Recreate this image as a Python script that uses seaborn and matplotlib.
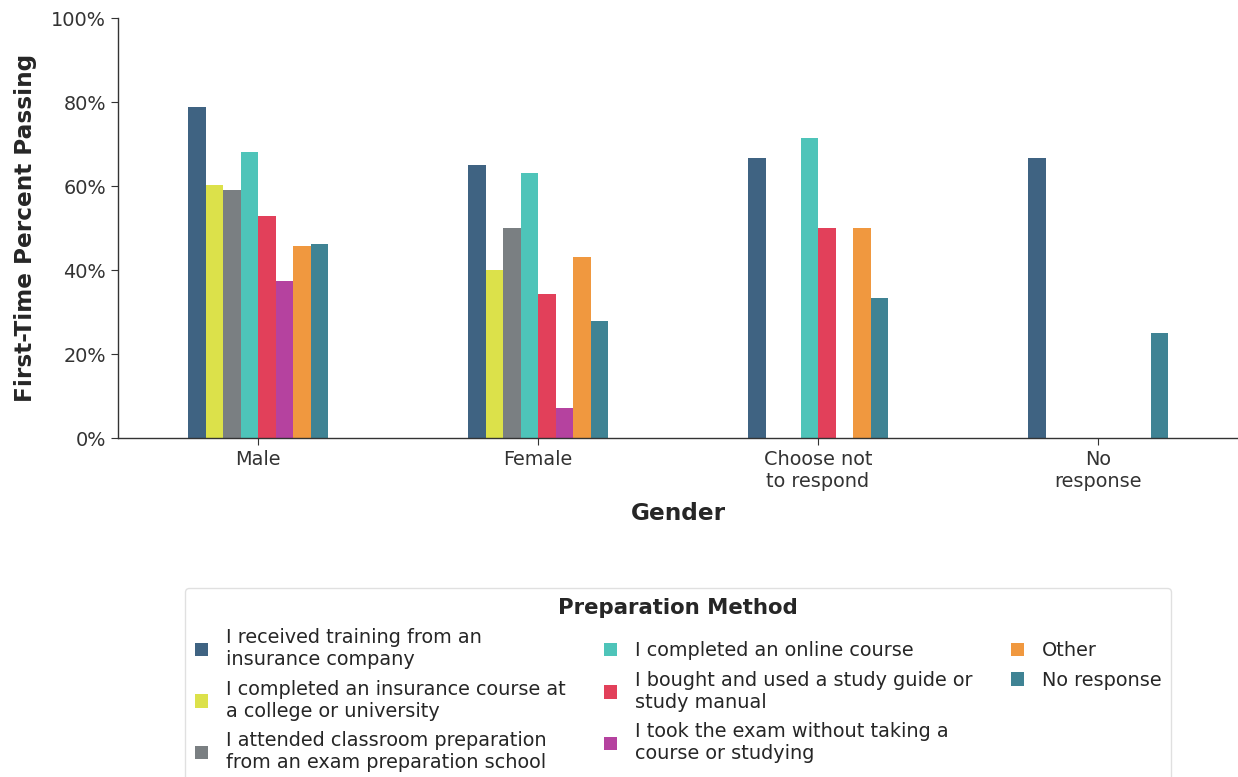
import numpy as np
import pandas as pd
import matplotlib.pyplot as plt
import matplotlib.ticker as mtick
import seaborn as sns

# ----------------------------
# Data (percent passing)
# ----------------------------
genders = ["Male", "Female", "Choose not\nto respond", "No\nresponse"]
methods = [
    "I received training from an\ninsurance company",
    "I completed an insurance course at\na college or university",
    "I attended classroom preparation\nfrom an exam preparation school",
    "I completed an online course",
    "I bought and used a study guide or\nstudy manual",
    "I took the exam without taking a\ncourse or studying",
    "Other",
    "No response",
]
colors = ["#3f6382", "#dce14a", "#7a7f82", "#4ec4b9",
          "#e2405a", "#b5429f", "#f0983f", "#3f8394"]

male = [78.9, 60.2, 59.0, 68.2, 52.9, 37.5, 45.6, 46.3]
female = [64.9, 40.0, 50.0, 63.0, 34.4, 7.1, 43.2, 27.9]
choose_not = [66.7, np.nan, np.nan, 71.4, 50.0, np.nan, 50.0, 33.3]
no_resp = [66.7, np.nan, np.nan, np.nan, np.nan, np.nan, np.nan, 25.0]

df = pd.DataFrame({
    "Gender": np.repeat(genders, len(methods)),
    "Preparation Method": methods * len(genders),
    "pct": male + female + choose_not + no_resp,
}).dropna()

# ----------------------------
# Plot
# ----------------------------
sns.set_style("white")
plt.rcParams["font.family"] = ["DejaVu Sans"]

fig = plt.figure(figsize=(12.38, 7.77), dpi=100)
ax = fig.add_axes([118 / 1238, 1 - 438 / 777, 1 - 118 / 1238, 420 / 777])

sns.barplot(data=df, x="Gender", y="pct", hue="Preparation Method",
            order=genders, hue_order=methods, palette=colors,
            saturation=1, width=0.5, linewidth=0, ax=ax)

ax.set_ylim(0, 100)
ax.set_xlim(-0.5, 3.5)
ax.yaxis.set_major_formatter(mtick.PercentFormatter(decimals=0))
ax.set_yticks([0, 20, 40, 60, 80, 100])
ax.tick_params(axis="both", labelsize=13.9, colors="#333333",
               length=5, width=0.8, bottom=True, left=True)
ax.set_xlabel("Gender", fontsize=16.7, fontweight="bold", labelpad=8)
ax.set_ylabel("First-Time Percent Passing", fontsize=16.7,
              fontweight="bold", labelpad=10)
sns.despine(ax=ax)
for s in ["left", "bottom"]:
    ax.spines[s].set_color("#333333")
    ax.spines[s].set_linewidth(1.0)

leg = ax.legend(title="Preparation Method", loc="upper center",
                bbox_to_anchor=(0.5, -0.357), borderaxespad=0, ncol=3,
                fontsize=13.9,
                title_fontproperties={"weight": "bold", "size": 15.3},
                handlelength=0.7, handleheight=0.7, handletextpad=0.9,
                labelspacing=0.55, columnspacing=2.0, frameon=True,
                fancybox=True, borderpad=0.5)
leg.get_frame().set_edgecolor("#d9d9d9")

fig.savefig("out.png", dpi=100)
